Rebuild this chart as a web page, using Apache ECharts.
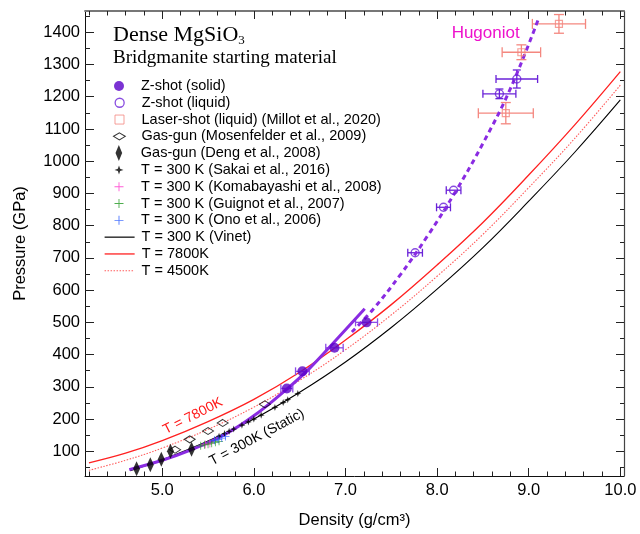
<!DOCTYPE html>
<html><head><meta charset="utf-8">
<script src="https://cdn.jsdelivr.net/npm/echarts@6/dist/echarts.min.js"></script>
<style>html,body{margin:0;padding:0;background:#fff}#c{width:640px;height:534px}</style>
</head><body><div id="c"></div>
<script>
// ---------- data (density g/cm3, pressure GPa) ----------
const zSolid = [[6.36,295],[6.53,348],[6.88,421],[7.23,500]];
const zSolidErrX = [0.065,0.075,0.095,0.12];
const zLiquid = [[7.76,716],[8.07,857],[8.18,910],[8.68,1209],[8.87,1255]];
const zLiquidErrX = [0.08,0.076,0.08,0.18,0.227];
const zLiquidErrY = [0,0,0,15,28];
const laser = [[8.75,1149],[8.92,1338],[9.33,1426]];
const laserErrX = [0.30,0.21,0.29];
const laserErrY = [33,23,29];
const mosenfelder = [[5.14,105],[5.30,137],[5.50,163],[5.66,188],[6.12,246]];
const deng = [[4.72,46],[4.87,58],[4.99,75],[5.09,100],[5.32,106]];
const sakai = [[5.62,147],[5.68,155],[5.73,162],[5.78,169],[5.87,181],[5.94,191],[6.00,200],[6.08,212],[6.23,236],[6.32,251],[6.37,260],[6.48,279]];
const komabayashi = [[5.47,121],[5.52,124]];
const guignot = [[5.42,117],[5.46,120],[5.50,122],[5.54,125],[5.58,128],[5.62,131]];
const ono = [[5.57,134],[5.61,137],[5.65,141],[5.69,146]];
const zSolidFit = [[4.64,43],[5.0,72],[5.3,103],[5.67,150],[6.0,210],[6.36,293],[6.6,355],[6.88,440],[7.21,542]];
const hugoniot = [[7.07,470],[7.3,540],[7.6,648],[7.9,770],[8.2,905],[8.5,1055],[8.8,1225],[9.11,1444]];
const vinet300 = [[4.65,40],[5.0,74],[5.5,132],[6.0,200],[6.5,283],[7.0,377],[7.5,484],[8.0,603],[8.5,732],[9.0,876],[9.5,1027],[10.0,1190]];
const t7800 = [[4.2,64],[4.6,94],[5.0,133],[5.5,192],[6.0,261],[6.5,345],[7.0,445],[7.5,555],[8.0,678],[8.5,810],[9.0,957],[9.5,1112],[10.0,1278]];
const t4500 = [[4.2,41],[4.6,72],[5.0,110],[5.5,168],[6.0,237],[6.5,320],[7.0,415],[7.5,523],[8.0,643],[8.5,773],[9.0,918],[9.5,1070],[10.0,1236]];
// ticks
const xMajor = [5,6,7,8,9,10];
const xMinor = [4.2,4.4,4.6,4.8,5.2,5.4,5.6,5.8,6.2,6.4,6.6,6.8,7.2,7.4,7.6,7.8,8.2,8.4,8.6,8.8,9.2,9.4,9.6,9.8];
const yMajor = [100,200,300,400,500,600,700,800,900,1000,1100,1200,1300,1400];
const yMinor = [50,150,250,350,450,550,650,750,850,950,1050,1150,1250,1350,1450];
const xRange = [4.157, 10.04];
const yRange = [23.3, 1466];

// ---------- styling ----------
const FONT = '"Liberation Sans", Arial, Helvetica, sans-serif';
const SERIF = '"Liberation Serif", "Times New Roman", serif';
const PURPLE = '#5a00c8', PLINE = '#8a2be2', PERR = '#8c4ce6', SALMON = '#f4877f';
const RED = '#ff2020', RED2 = '#ff5c5c';
const P_PLUS = 'path://M-1,-10H1V-1H10V1H1V10H-1V1H-10V-1H-1Z';
const P_STAR = 'path://M0,-10L2.6,-2.6L10,0L2.6,2.6L0,10L-2.6,2.6L-10,0L-2.6,-2.6Z';
const P_WIDE = 'path://M0,-6L10,0L0,6L-10,0Z';
const P_TALL = 'path://M0,-12L5,0L0,12L-5,0Z';
const P_SQ = 'path://M0,0H10V10H0Z';

const chart = echarts.init(document.getElementById('c'));

function errorSeries(pts, ex, ey, color, cap) {
  return {
    type: 'custom', name: 'err', silent: true, z: 3,
    data: pts.map((p, i) => [p[0], p[1], ex[i], ey[i]]),
    encode: { x: 0, y: 1 },
    renderItem(params, api) {
      const x = api.value(0), y = api.value(1), dx = api.value(2), dy = api.value(3);
      const c = api.coord([x, y]), l = api.coord([x - dx, y]), r = api.coord([x + dx, y]);
      const st = { stroke: color, lineWidth: 1.3 };
      const ch = [
        { type: 'line', shape: { x1: l[0], y1: c[1], x2: r[0], y2: c[1] }, style: st },
        { type: 'line', shape: { x1: l[0], y1: c[1] - cap, x2: l[0], y2: c[1] + cap }, style: st },
        { type: 'line', shape: { x1: r[0], y1: c[1] - cap, x2: r[0], y2: c[1] + cap }, style: st }
      ];
      if (dy > 0) {
        const t = api.coord([x, y + dy]), b = api.coord([x, y - dy]);
        ch.push({ type: 'line', shape: { x1: c[0], y1: t[1], x2: c[0], y2: b[1] }, style: st });
        ch.push({ type: 'line', shape: { x1: c[0] - cap, y1: t[1], x2: c[0] + cap, y2: t[1] }, style: st });
        ch.push({ type: 'line', shape: { x1: c[0] - cap, y1: b[1], x2: c[0] + cap, y2: b[1] }, style: st });
      }
      return { type: 'group', children: ch };
    }
  };
}

function xAx(pos, values, len, label, lineColor, lineWidth) {
  return {
    type: 'value', position: pos, min: xRange[0], max: xRange[1],
    axisLine: { show: !!lineColor, onZero: false, lineStyle: { color: lineColor || '#000', width: lineWidth || 1 } },
    axisTick: { show: true, inside: true, length: len, customValues: values, lineStyle: { color: '#222', width: 1 } },
    axisLabel: { show: label, customValues: values, formatter: v => Number(v).toFixed(1), fontFamily: FONT, fontSize: 16.5, color: '#000', margin: 6 },
    splitLine: { show: false },
    name: label ? 'Density (g/cm³)' : '', nameLocation: 'middle', nameGap: 36,
    nameTextStyle: { fontFamily: FONT, fontSize: 16.5, color: '#000' }
  };
}
function yAx(pos, values, len, label, lineColor, lineWidth) {
  return {
    type: 'value', position: pos, min: yRange[0], max: yRange[1],
    axisLine: { show: !!lineColor, onZero: false, lineStyle: { color: lineColor || '#000', width: lineWidth || 1 } },
    axisTick: { show: true, inside: true, length: len, customValues: values, lineStyle: { color: '#222', width: 1 } },
    axisLabel: { show: label, customValues: values, formatter: v => String(Math.round(v)), fontFamily: FONT, fontSize: 16.5, color: '#000', margin: 5 },
    splitLine: { show: false },
    name: label ? 'Pressure (GPa)' : '', nameLocation: 'middle', nameGap: 56,
    nameTextStyle: { fontFamily: FONT, fontSize: 16.5, color: '#000' }
  };
}

const legendItems = [
  { name: 'Z-shot (solid)', w: 10, h: 10 },
  { name: 'Z-shot (liquid)', w: 9, h: 9, border: 1.3 },
  { name: 'Laser-shot (liquid) (Millot et al., 2020)', w: 9, h: 9, border: 1 },
  { name: 'Gas-gun (Mosenfelder et al., 2009)', w: 12, h: 7, border: 1.1 },
  { name: 'Gas-gun (Deng et al., 2008)', w: 7, h: 16 },
  { name: 'T = 300 K (Sakai et al., 2016)', w: 9, h: 9 },
  { name: 'T = 300 K (Komabayashi et al., 2008)', w: 9, h: 9 },
  { name: 'T = 300 K (Guignot et al., 2007)', w: 9, h: 9 },
  { name: 'T = 300 K (Ono et al., 2006)', w: 9, h: 9 },
  { name: 'T = 300 K (Vinet)', w: 30, h: 12, lw: 1.2 },
  { name: 'T = 7800K', w: 30, h: 12, lw: 1.3 },
  { name: 'T = 4500K', w: 30, h: 12, lw: 1.1 }
];
const legends = legendItems.map((it, i) => {
  const c = 85.7 + i * 16.8;
  const H = Math.max(it.h, 14.5);
  const left = 119 - it.w / 2;
  const pad = 141 - (left + it.w + 5);
  const d = { name: it.name };
  if (it.border) d.itemStyle = { borderWidth: it.border };
  if (it.lw) { d.lineStyle = { width: it.lw }; d.itemStyle = { opacity: 0 }; }
  return {
    data: [d], left: left, top: c - H / 2, padding: 0, orient: 'vertical',
    itemWidth: it.w, itemHeight: it.h, selectedMode: false,
    textStyle: { fontFamily: FONT, fontSize: 14.5, color: '#000', padding: [0, 0, 0, pad] }
  };
});

const option = {
  animation: false,
  backgroundColor: '#fff',
  grid: { left: 85, top: 11, width: 539, height: 465, containLabel: false },
  legend: legends,
  xAxis: [
    xAx('bottom', xMajor, 8, true, '#111', 1),
    xAx('bottom', xMinor, 4.5, false, null),
    xAx('top', xMajor, 8, false, '#777', 1.8),
    xAx('top', xMinor, 4.5, false, null)
  ],
  yAxis: [
    yAx('left', yMajor, 9, true, '#111', 1),
    yAx('left', yMinor, 5, false, null),
    yAx('right', yMajor, 8, false, '#444', 1.2),
    yAx('right', yMinor, 4, false, null)
  ],
  series: [
    { type: 'line', name: 'T = 300 K (Vinet)', data: vinet300, smooth: 0.4, showSymbol: false, symbol: 'none', z: 2, lineStyle: { color: '#000', width: 1.1 }, itemStyle: { color: '#000' } },
    { type: 'line', name: 'T = 7800K', data: t7800, smooth: 0.4, showSymbol: false, symbol: 'none', z: 2, lineStyle: { color: RED, width: 1.3 }, itemStyle: { color: RED } },
    { type: 'line', name: 'T = 4500K', data: t4500, smooth: 0.4, showSymbol: false, symbol: 'none', z: 2, lineStyle: { color: RED2, width: 1.1, type: [1.5, 1.5] }, itemStyle: { color: RED2 } },
    { type: 'line', name: 'zfit', data: zSolidFit, smooth: 0.4, showSymbol: false, symbol: 'none', z: 4, lineStyle: { color: PLINE, width: 3 } },
    { type: 'line', name: 'hug', data: hugoniot, smooth: 0.4, showSymbol: false, symbol: 'none', z: 4, lineStyle: { color: PLINE, width: 3, type: [5, 4] } },
    errorSeries(zSolid, zSolidErrX, [0, 0, 0, 0], PERR, 4),
    errorSeries(zLiquid, zLiquidErrX, zLiquidErrY, '#6a22d8', 4),
    errorSeries(laser, laserErrX, laserErrY, SALMON, 5),
    { type: 'scatter', name: 'T = 300 K (Sakai et al., 2016)', data: sakai, symbol: P_STAR, symbolSize: 7, z: 5, itemStyle: { color: '#000' } },
    { type: 'scatter', name: 'T = 300 K (Komabayashi et al., 2008)', data: komabayashi, symbol: P_PLUS, symbolSize: 8, z: 5, itemStyle: { color: '#ff33cc' } },
    { type: 'scatter', name: 'T = 300 K (Guignot et al., 2007)', data: guignot, symbol: P_PLUS, symbolSize: 8, z: 5, itemStyle: { color: '#229922' } },
    { type: 'scatter', name: 'T = 300 K (Ono et al., 2006)', data: ono, symbol: P_PLUS, symbolSize: 8, z: 5, itemStyle: { color: '#2255ff' } },
    { type: 'scatter', name: 'Gas-gun (Mosenfelder et al., 2009)', data: mosenfelder, symbol: P_WIDE, symbolSize: [11, 7], z: 5, itemStyle: { color: 'rgba(255,255,255,0)', borderColor: '#000', borderWidth: 1 } },
    { type: 'scatter', name: 'Gas-gun (Deng et al., 2008)', data: deng, symbol: P_TALL, symbolSize: [7, 15], z: 5, itemStyle: { color: '#000' } },
    { type: 'scatter', name: 'Z-shot (solid)', data: zSolid, symbol: 'circle', symbolSize: 10, z: 6, itemStyle: { color: PURPLE } },
    { type: 'scatter', name: 'Z-shot (liquid)', data: zLiquid, symbol: 'circle', symbolSize: 8, z: 6, itemStyle: { color: 'rgba(255,255,255,0)', borderColor: '#6a1fd8', borderWidth: 1.4 } },
    { type: 'scatter', name: 'Laser-shot (liquid) (Millot et al., 2020)', data: laser, symbol: P_SQ, symbolSize: 7, z: 6, itemStyle: { color: 'rgba(255,255,255,0)', borderColor: SALMON, borderWidth: 1.2 } }
  ]
};
chart.setOption(option);

// ---------- annotation text ----------
const ctx = document.createElement('canvas').getContext('2d');
ctx.font = '22px ' + SERIF;
const wTitle = ctx.measureText('Dense MgSiO').width;
const p7800 = chart.convertToPixel({ gridIndex: 0 }, [5.335, 209]);
const p300 = chart.convertToPixel({ gridIndex: 0 }, [6.033, 143]);
const pHug = chart.convertToPixel({ gridIndex: 0 }, [8.53, 1397]);
chart.setOption({
  graphic: [
    { type: 'text', x: 113, y: 35, style: { text: 'Dense MgSiO', font: '22px ' + SERIF, fill: '#000', align: 'left', verticalAlign: 'middle' } },
    { type: 'text', x: 113 + wTitle, y: 41, style: { text: '3', font: '13px ' + SERIF, fill: '#000', align: 'left', verticalAlign: 'middle' } },
    { type: 'text', x: 113, y: 58, style: { text: 'Bridgmanite starting material', font: '19px ' + SERIF, fill: '#000', align: 'left', verticalAlign: 'middle' } },
    { type: 'text', x: pHug[0], y: pHug[1], style: { text: 'Hugoniot', font: '17px ' + FONT, fill: '#ee11cc', align: 'center', verticalAlign: 'middle' } },
    { type: 'text', x: p7800[0], y: p7800[1], rotation: 27 * Math.PI / 180, style: { text: 'T = 7800K', font: '14px ' + FONT, fill: '#ff1a1a', align: 'center', verticalAlign: 'middle' } },
    { type: 'text', x: p300[0], y: p300[1], rotation: 28 * Math.PI / 180, style: { text: 'T = 300K (Static)', font: '14px ' + FONT, fill: '#000', align: 'center', verticalAlign: 'middle' } }
  ]
});
</script></body></html>
